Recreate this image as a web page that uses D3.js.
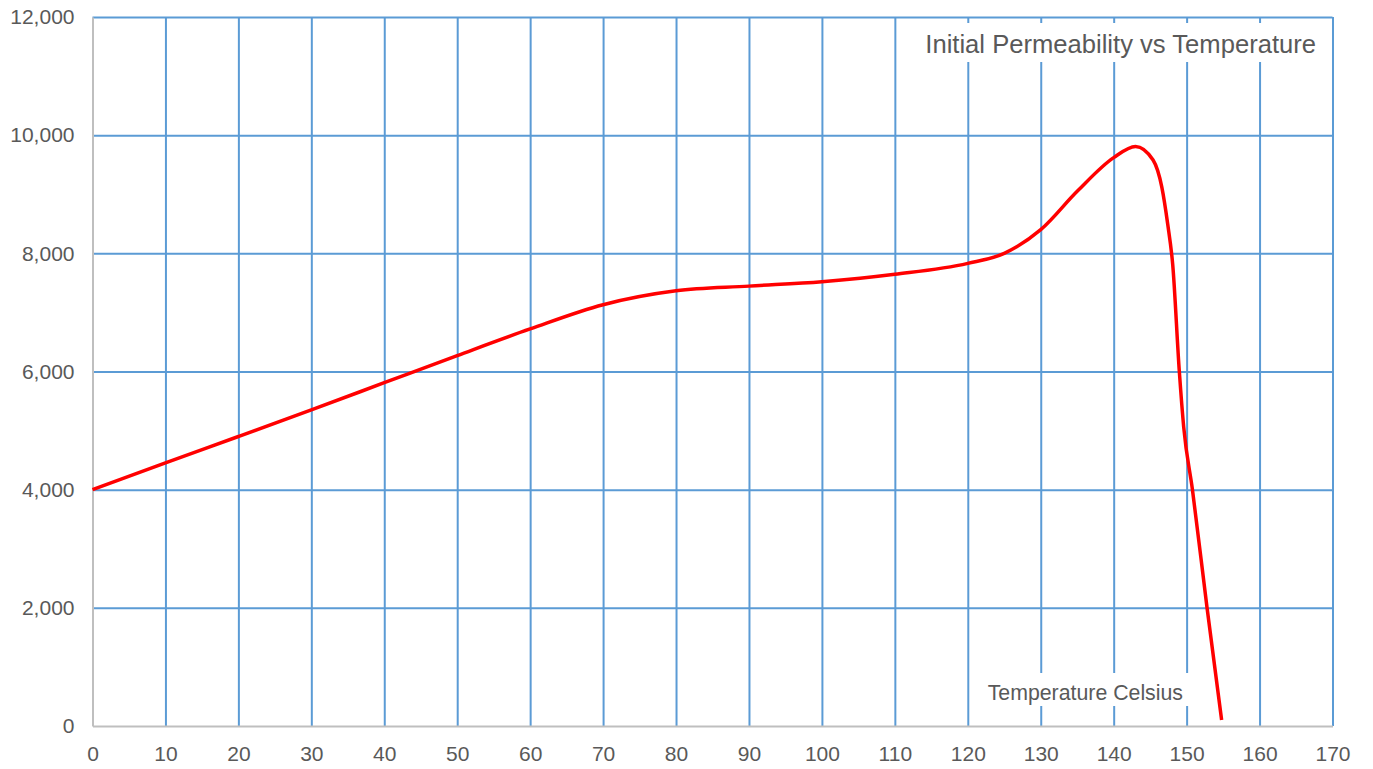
<!DOCTYPE html>
<html>
<head>
<meta charset="utf-8">
<script src="https://cdn.jsdelivr.net/npm/d3@7"></script>
<style>
  html, body { margin: 0; padding: 0; background: #fff; }
  text { font-family: "Liberation Sans", Arial, sans-serif; fill: #595959; }
</style>
</head>
<body>
<svg id="chart" width="1373" height="769"></svg>
<script>
'use strict';

// temperature (Celsius) and initial permeability
var temperature  = [0, 10, 20, 30, 40, 50, 60, 70, 80, 90, 100, 110, 120, 125, 130, 135, 140, 143, 145.4, 146.6, 147.4, 148.1, 149, 149.6, 150.8, 152.8, 154.8];
var permeability = [4000, 4455, 4900, 5350, 5810, 6270, 6720, 7130, 7365, 7445, 7520, 7645, 7830, 8000, 8400, 9050, 9620, 9810, 9580, 9120, 8500, 7800, 6000, 5060, 4000, 2000, 100];

var xTickValues = [0, 10, 20, 30, 40, 50, 60, 70, 80, 90, 100, 110, 120, 130, 140, 150, 160, 170];
var yTickValues = [0, 2000, 4000, 6000, 8000, 10000, 12000];

var chartTitle = "Initial Permeability vs Temperature";
var xTitle     = "Temperature Celsius";

var margin = { top: 17, right: 40.5, bottom: 43, left: 92.5 };
var width  = 1373 - margin.left - margin.right;
var height = 769 - margin.top - margin.bottom;

var svg = d3.select("#chart");
var g = svg.append("g").attr("transform", "translate(" + margin.left + "," + margin.top + ")");

var x = d3.scaleLinear().domain([0, 170]).range([0, width]);
var y = d3.scaleLinear().domain([0, 12000]).range([height, 0]);

// gridlines
g.append("g")
    .attr("class", "grid-x")
    .call(d3.axisBottom(x).tickValues(xTickValues.slice(1)).tickSize(height).tickFormat(""))
    .call(function (s) { s.select(".domain").remove(); })
    .selectAll("line").attr("stroke", "#5b9bd5").attr("stroke-width", 2);

g.append("g")
    .attr("class", "grid-y")
    .call(d3.axisLeft(y).tickValues(yTickValues.slice(1)).tickSize(-width).tickFormat(""))
    .call(function (s) { s.select(".domain").remove(); })
    .selectAll("line").attr("stroke", "#5b9bd5").attr("stroke-width", 2);

// axes
var xAxis = g.append("g")
    .attr("transform", "translate(0," + height + ")")
    .call(d3.axisBottom(x).tickValues(xTickValues).tickSize(0).tickPadding(20));
xAxis.select(".domain").attr("stroke", "#bfbfbf").attr("stroke-width", 2);

var yAxis = g.append("g")
    .call(d3.axisLeft(y).tickValues(yTickValues).tickSize(0).tickPadding(18).tickFormat(d3.format(",")));
yAxis.select(".domain").attr("stroke", "#bfbfbf").attr("stroke-width", 2);

svg.selectAll(".tick text")
    .style("font-size", "21px")
    .style("fill", "#595959")
    .style("font-family", "'Liberation Sans', Arial, sans-serif");

// the curve
var line = d3.line()
    .x(function (d, i) { return x(temperature[i]); })
    .y(function (d) { return y(d); })
    .curve(d3.curveMonotoneX);

g.append("path")
    .datum(permeability)
    .attr("fill", "none")
    .attr("stroke", "#ff0000")
    .attr("stroke-width", 3.5)
    .attr("d", line);

// text boxes with white fill, hiding gridlines behind them
function boxedText(txt, xEnd, yBase, size, padX, padTop, padBottom) {
    var grp = svg.append("g");
    var rect = grp.append("rect").attr("fill", "#fff");
    var t = grp.append("text")
        .attr("x", xEnd)
        .attr("y", yBase)
        .attr("text-anchor", "end")
        .style("font-size", size)
        .text(txt);
    var bb = t.node().getBBox();
    rect.attr("x", bb.x - padX)
        .attr("y", bb.y - padTop)
        .attr("width", bb.width + padX * 2)
        .attr("height", bb.height + padTop + padBottom);
}

boxedText(chartTitle, 1316, 53, "25.6px", 10, 7, 4);
boxedText(xTitle, 1183, 700, "21.3px", 10, 8, 1);
</script>
</body>
</html>
